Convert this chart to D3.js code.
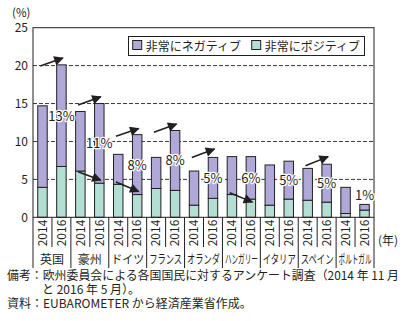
<!DOCTYPE html>
<html>
<head>
<meta charset="utf-8">
<script src="https://cdn.jsdelivr.net/npm/d3@7"></script>
<style>
  body { margin: 0; background: #fff; }
  svg text { font-family: "Noto Sans CJK JP", "Noto Sans", sans-serif; fill: #231f20; }
</style>
</head>
<body>
<div id="root"></div>
<script>
// data
const countries = ["英国", "豪州", "ドイツ", "フランス", "オランダ", "ハンガリー", "イタリア", "スペイン", "ポルトガル"];
const years = ["2014", "2016"];
// 非常にポジティブ (lower, green), one per bar: country x year
const positive = [3.95, 6.7, 6.1, 4.5, 4.35, 3.0, 3.8, 3.55, 1.6, 2.5, 3.0, 2.4, 1.6, 2.4, 2.25, 2.0, 0.5, 0.95];
// 非常にネガティブ (stacked on top, purple)
const negative = [10.75, 13.4, 7.85, 10.5, 3.95, 7.9, 4.1, 7.9, 4.5, 5.4, 5.0, 5.6, 5.3, 5.0, 4.2, 5.0, 3.45, 0.75];
const changeLabels = ["13%", "11%", "8%", "8%", "5%", "6%", "5%", "5%", "1%"];
// trend arrows: country index, value at start, value at tip
const arrowCountry = [0, 1, 1, 2, 2, 3, 4, 5, 7];
const arrowFrom = [19.95, 14.8, 6.0, 10.7, 4.65, 11.2, 7.9, 3.25, 6.8];
const arrowTo = [21.0, 15.9, 4.9, 11.7, 3.4, 12.3, 9.0, 2.0, 8.0];
const yTicks = [0, 5, 10, 15, 20, 25];
const legendNames = ["非常にネガティブ", "非常にポジティブ"];
const notes = [
  "備考：欧州委員会による各国国民に対するアンケート調査（2014 年 11 月",
  "と 2016 年 5 月）。",
  "資料：EUBAROMETER から経済産業省作成。"
];

const colorNeg = "#b0a8d9";
const colorPos = "#b3ded3";
const ink = "#231f20";

const W = 410, H = 321;
const plot = { left: 33, right: 374, top: 27.7, bottom: 217.3 };

const bars = [];
countries.forEach((c, i) => {
  years.forEach((yr, j) => {
    const k = i * 2 + j;
    bars.push({ key: k, country: c, year: yr, pos: positive[k], neg: negative[k] });
  });
});

const svg = d3.select("#root").append("svg")
  .attr("width", W)
  .attr("height", H);

const x = d3.scaleBand()
  .domain(bars.map(d => d.key))
  .range([plot.left, plot.right])
  .paddingInner(0.5)
  .paddingOuter(0.25);

const y = d3.scaleLinear()
  .domain([0, 25])
  .range([plot.bottom, plot.top]);

const step = x.step();
const bw = x.bandwidth();
const cx = k => x(k) + bw / 2;

// squeeze a text horizontally so it is at most maxW wide
const squeeze = (sel, maxW) => sel.each(function() {
  const t = d3.select(this);
  const w = this.getComputedTextLength();
  if (w > maxW) {
    const tx = +t.attr("x"), ty = +t.attr("y");
    t.attr("x", 0).attr("y", 0)
      .attr("transform", "translate(" + tx + "," + ty + ") scale(" + (maxW / w) + ",1)");
  }
});

// grid
svg.append("g")
  .selectAll("line")
  .data(yTicks.filter(t => t > 0 && t < 25))
  .enter().append("line")
  .attr("x1", plot.left).attr("x2", plot.right)
  .attr("y1", d => y(d)).attr("y2", d => y(d))
  .attr("stroke", ink)
  .attr("stroke-width", 0.9)
  .attr("stroke-dasharray", "4,2");

// stacked bars
const gb = svg.append("g");
gb.selectAll(".pos")
  .data(bars)
  .enter().append("rect")
  .attr("class", "pos")
  .attr("x", d => x(d.key))
  .attr("width", bw)
  .attr("y", d => y(d.pos))
  .attr("height", d => y(0) - y(d.pos))
  .attr("fill", colorPos)
  .attr("stroke", ink)
  .attr("stroke-width", 1);
gb.selectAll(".neg")
  .data(bars)
  .enter().append("rect")
  .attr("class", "neg")
  .attr("x", d => x(d.key))
  .attr("width", bw)
  .attr("y", d => y(d.pos + d.neg))
  .attr("height", d => y(d.pos) - y(d.pos + d.neg))
  .attr("fill", colorNeg)
  .attr("stroke", ink)
  .attr("stroke-width", 1);

// frame
svg.append("rect")
  .attr("x", plot.left).attr("y", plot.top)
  .attr("width", plot.right - plot.left)
  .attr("height", plot.bottom - plot.top)
  .attr("fill", "none")
  .attr("stroke", ink)
  .attr("stroke-width", 1);

// y axis
const ya = svg.append("g")
  .attr("transform", "translate(" + plot.left + ",0)")
  .call(d3.axisLeft(y).tickValues(yTicks).tickSize(0).tickPadding(5));
ya.select(".domain").remove();
ya.selectAll("text")
  .attr("font-size", 12)
  .attr("font-family", "'Noto Sans CJK JP', sans-serif")
  .attr("fill", ink);

svg.append("text")
  .attr("x", 12).attr("y", 16.5)
  .attr("font-size", 11.5)
  .text("(%)");

// arrows
const defs = svg.append("defs");
defs.append("marker")
  .attr("id", "head")
  .attr("viewBox", "0 0 10 10")
  .attr("refX", 9).attr("refY", 5)
  .attr("markerWidth", 6.5).attr("markerHeight", 6)
  .attr("markerUnits", "strokeWidth")
  .attr("orient", "auto")
  .append("path")
  .attr("d", "M0,0 L10,5 L0,10 Z")
  .attr("fill", ink);

svg.append("g")
  .selectAll("line")
  .data(arrowCountry.map((c, i) => ({ c, from: arrowFrom[i], to: arrowTo[i] })))
  .enter().append("line")
  .attr("x1", d => x(d.c * 2) + 2.5)
  .attr("y1", d => y(d.from))
  .attr("x2", d => cx(d.c * 2 + 1) + 1.5)
  .attr("y2", d => y(d.to))
  .attr("stroke", ink)
  .attr("stroke-width", 1.6)
  .attr("marker-end", "url(#head)");

// value labels on 2016 bars
svg.append("g")
  .selectAll("text")
  .data(countries.map((c, i) => ({ b: bars[i * 2 + 1], label: changeLabels[i] })))
  .enter().append("text")
  .attr("x", d => cx(d.b.key))
  .attr("y", d => {
    const seg = y(d.b.pos) - y(d.b.pos + d.b.neg);
    return seg > 18 ? y(d.b.pos + d.b.neg / 2) + 5 : y(d.b.pos + d.b.neg) - 4;
  })
  .attr("text-anchor", "middle")
  .attr("font-size", 13)
  .attr("stroke", "#fff")
  .attr("stroke-width", 2.5)
  .attr("paint-order", "stroke")
  .attr("stroke-linejoin", "round")
  .text(d => d.label);

// category table under the axis
const gx = svg.append("g");
d3.range(bars.length + 1).forEach(i => {
  const xx = plot.left + i * step;
  gx.append("line")
    .attr("x1", xx).attr("x2", xx)
    .attr("y1", plot.bottom)
    .attr("y2", i % 2 === 0 ? 268 : 247)
    .attr("stroke", ink)
    .attr("stroke-width", 1);
});

gx.selectAll(".yr")
  .data(bars)
  .enter().append("text")
  .attr("class", "yr")
  .attr("transform", d => "translate(" + (cx(d.key) + 4.3) + ",233) rotate(-90)")
  .attr("text-anchor", "middle")
  .attr("font-size", 12)
  .text(d => d.year);

// long names are squeezed to fit two bands, as in the source
gx.selectAll(".ctry")
  .data(countries)
  .enter().append("text")
  .attr("class", "ctry")
  .attr("x", (d, i) => plot.left + (i * 2 + 1) * step)
  .attr("y", 263.5)
  .attr("text-anchor", "middle")
  .attr("font-size", 12)
  .text(d => d)
  .call(squeeze, 33);

svg.append("text")
  .attr("x", 378).attr("y", 245)
  .attr("font-size", 12)
  .text("(年)");

// legend
const lg = svg.append("g");
lg.append("rect")
  .attr("x", 128.5).attr("y", 36.5)
  .attr("width", 236).attr("height", 19)
  .attr("fill", "#fff")
  .attr("stroke", ink)
  .attr("stroke-width", 1);
[[132.7, colorNeg], [251.7, colorPos]].forEach((p, i) => {
  lg.append("rect")
    .attr("x", p[0]).attr("y", 40.5)
    .attr("width", 9).attr("height", 9)
    .attr("fill", p[1])
    .attr("stroke", ink)
    .attr("stroke-width", 1);
  lg.append("text")
    .attr("x", p[0] + 13).attr("y", 50.5)
    .attr("font-size", 12)
    .text(legendNames[i]);
});

// notes, one text block with a line per tspan
const noteX = [7, 42, 7];
const noteY = [279.5, 294, 307.5];
const nt = svg.append("text")
  .attr("font-size", 12);
nt.selectAll("tspan")
  .data(notes)
  .enter().append("tspan")
  .attr("x", (d, i) => noteX[i])
  .attr("y", (d, i) => noteY[i])
  .text(d => d)
  .each(function(d, i) {
    // first line is a bit wider than the page allows
    if (i === 0 && this.getComputedTextLength() > 392) {
      d3.select(this).attr("textLength", 392).attr("lengthAdjust", "spacingAndGlyphs");
    }
  });
</script>
</body>
</html>
